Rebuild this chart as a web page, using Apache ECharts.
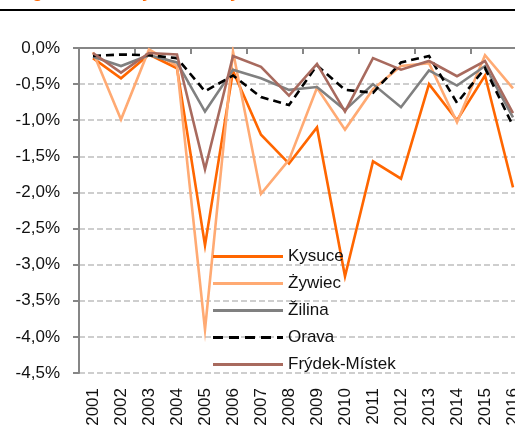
<!DOCTYPE html>
<html>
<head>
<meta charset="utf-8">
<script src="https://cdn.jsdelivr.net/npm/echarts@6/dist/echarts.min.js"></script>
<style>
html,body{margin:0;padding:0;background:#fff;}
#chart{width:515px;height:432px;}
</style>
</head>
<body>
<div id="chart"></div>
<script>
const years = ['2001','2002','2003','2004','2005','2006','2007','2008','2009','2010','2011','2012','2013','2014','2015','2016'];
const kysuce = [-0.14,-0.42,-0.09,-0.28,-2.73,-0.32,-1.20,-1.60,-1.10,-3.16,-1.57,-1.81,-0.50,-1.00,-0.38,-1.93];
const zywiec = [-0.06,-0.99,-0.02,-0.25,-3.90,-0.05,-2.02,-1.55,-0.55,-1.13,-0.57,-0.25,-0.21,-1.03,-0.10,-0.56];
const zilina = [-0.12,-0.25,-0.10,-0.20,-0.88,-0.30,-0.42,-0.58,-0.54,-0.86,-0.50,-0.82,-0.31,-0.52,-0.25,-0.96];
const orava  = [-0.11,-0.09,-0.10,-0.14,-0.60,-0.38,-0.68,-0.79,-0.24,-0.58,-0.62,-0.20,-0.11,-0.76,-0.28,-1.08];
const frydek = [-0.07,-0.34,-0.07,-0.09,-1.68,-0.11,-0.26,-0.66,-0.22,-0.88,-0.14,-0.30,-0.18,-0.39,-0.18,-0.90];
const seriesNames = ['Kysuce','Żywiec','Žilina','Orava','Frýdek-Místek'];
const yMin = -4.5, yMax = 0, yStep = 0.5;
const titleText = 'Figure 6: Net dynamics by districts';

const FONT = '"Liberation Sans", Arial, sans-serif';
const SOLID_ICON = 'path://M0,0h70v3h-70z';
const DASH_ICON = 'path://M0,0h10v3h-10z M16,0h10v3h-10z M32,0h10v3h-10z M48,0h10v3h-10z M64,0h6v3h-6z';
const chart = echarts.init(document.getElementById('chart'), null, {renderer:'canvas'});
const mk = (name, data, color, type, z) => ({
  name, type:'line', data, xAxisIndex:0, symbol:'none', showSymbol:false, z,
  lineStyle:{color, width:2.6, type, cap:'butt', join:'miter'},
  itemStyle:{color}
});
chart.setOption({
  animation:false,
  backgroundColor:'#fff',
  textStyle:{fontFamily:FONT},
  grid:{left:79, top:48, width:448, height:325, containLabel:false, outerBoundsMode:'none'},
  graphic:[
    {type:'text', x:16, y:-8, silent:true,
     style:{text:titleText, fill:'#FF6600', font:'bold 18px ' + FONT, verticalAlign:'middle', align:'left'}},
    {type:'line', silent:true, shape:{x1:0, y1:10, x2:515, y2:10}, style:{stroke:'#000', lineWidth:2}}
  ],
  legend:{
    orient:'vertical', left:213, top:248, padding:0, itemWidth:70, itemHeight:3, itemGap:10,
    data:[
      {name:seriesNames[0], icon:SOLID_ICON},
      {name:seriesNames[1], icon:SOLID_ICON},
      {name:seriesNames[2], icon:SOLID_ICON},
      {name:seriesNames[3], icon:DASH_ICON},
      {name:seriesNames[4], icon:SOLID_ICON}
    ],
    textStyle:{fontSize:17, color:'#111', fontFamily:FONT},
    backgroundColor:'transparent'
  },
  xAxis:[
    {type:'category', data:years, position:'top', boundaryGap:true,
     axisLine:{show:true, onZero:false, lineStyle:{color:'#868686', width:2}},
     axisTick:{show:true, inside:true, length:6, lineStyle:{color:'#868686', width:2}},
     axisLabel:{show:false}, splitLine:{show:false}},
    {type:'category', data:years, position:'bottom', boundaryGap:true,
     axisLine:{show:false, onZero:false}, axisTick:{show:false},
     axisLabel:{rotate:90, margin:15, fontSize:17, color:'#111', fontFamily:FONT, interval:0},
     splitLine:{show:false}}
  ],
  yAxis:{
    type:'value', min:yMin, max:yMax, interval:yStep,
    axisLine:{show:true, lineStyle:{color:'#868686', width:2}},
    axisTick:{show:true, length:6, lineStyle:{color:'#868686', width:2}},
    axisLabel:{margin:19, fontSize:17, color:'#111', fontFamily:FONT,
      formatter:v => v.toFixed(1).replace('.', ',') + '%'},
    splitLine:{show:true, lineStyle:{color:'#BFBFBF', width:1.5, type:[6,3]}}
  },
  series:[
    mk(seriesNames[0], kysuce, '#FF6600', 'solid', 2),
    mk(seriesNames[1], zywiec, '#FFAA73', 'solid', 3),
    mk(seriesNames[2], zilina, '#808080', 'solid', 4),
    mk(seriesNames[3], orava, '#000000', [8,5], 5),
    mk(seriesNames[4], frydek, '#A86A5E', 'solid', 6)
  ]
});
</script>
</body>
</html>
